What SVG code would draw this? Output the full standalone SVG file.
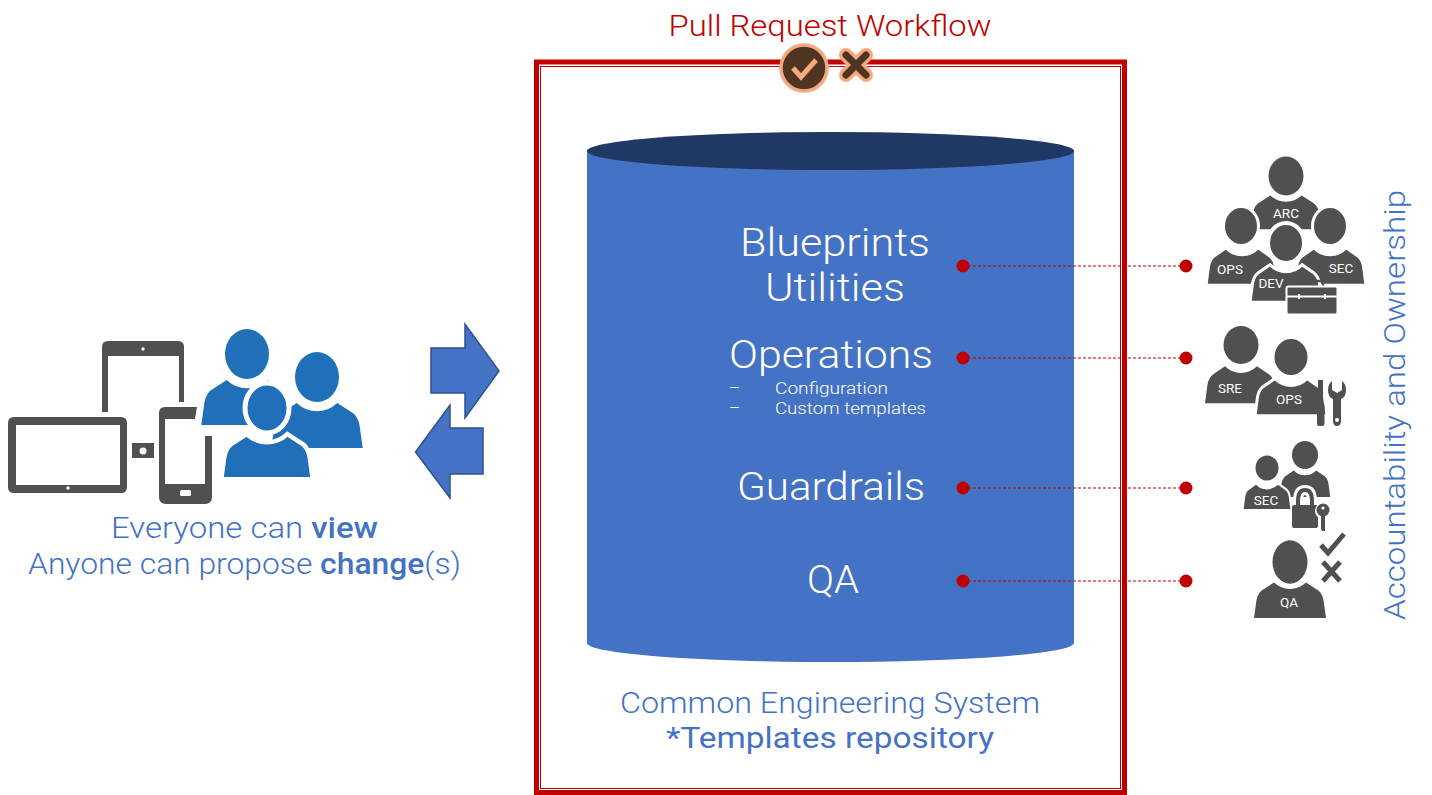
<svg xmlns="http://www.w3.org/2000/svg" xmlns:xlink="http://www.w3.org/1999/xlink" width="1432" height="795" viewBox="0 0 1432 795">
<style>
text{font-family:"Roboto","Liberation Sans",sans-serif;font-weight:300}
.w{fill:#fff}.b{fill:#4472c4}.r{fill:#c00000}
.gp{fill:#505050;stroke:#fff}
.bp{fill:#1f70b8;stroke:#fff}
.lb{fill:#fff;font-size:13.5px;font-weight:400;text-anchor:middle}
.gr{fill:#505050}
.ln{stroke:#c00000;stroke-width:1;stroke-dasharray:3 2;fill:none}
.dot{fill:#c00000}
.arr{fill:#4472c4;stroke:#2f528f;stroke-width:1.5}
</style>
<defs>
<path id="body" d="M-36,56 L-33.500,38 Q-32,30 -26,27 L-16,20.500 Q-9,27 0,27 Q9,27 16,20.500 L26,27 Q32,30 33.500,38 L36,56 Z"/>
</defs>
<rect width="1432" height="795" fill="#fff"/>

<g id="frame" fill="none" stroke="#c00000">
<rect x="536.500" y="62" width="588" height="730.500" stroke-width="5"/>
<rect x="540.500" y="66.500" width="580" height="722" stroke-width="1"/>
</g>
<g id="title"><text x="830" y="36" font-size="30" class="r" text-anchor="middle" textLength="323" lengthAdjust="spacingAndGlyphs">Pull Request Workflow</text></g>

<g id="review-icons">
<circle cx="804" cy="68" r="23" fill="#4f3422" stroke="#f4a97f" stroke-width="3.500"/>
<path d="M793,68 L801,77 L816,60" fill="none" stroke="#f4a97f" stroke-width="5"/>
<path d="M846,55 L866,75 M866,55 L846,75" stroke="#f4a97f" stroke-width="14" stroke-linecap="round"/>
<path d="M846,55 L866,75 M866,55 L846,75" stroke="#4f3422" stroke-width="7" stroke-linecap="round"/>
</g>

<g id="repository">
<path d="M587,151 V643 A243.500,19 0 0 0 1074,643 V151 Z" fill="#4472c4"/>
<ellipse cx="830.500" cy="151" rx="243.500" ry="19" fill="#203864"/>
<text x="835" y="256" font-size="38" class="w" text-anchor="middle" textLength="190" lengthAdjust="spacingAndGlyphs">Blueprints</text>
<text x="835" y="301" font-size="38" class="w" text-anchor="middle" textLength="140" lengthAdjust="spacingAndGlyphs">Utilities</text>
<text x="831" y="368" font-size="38" class="w" text-anchor="middle" textLength="204" lengthAdjust="spacingAndGlyphs">Operations</text>
<text x="729" y="394" font-size="17" class="w">–</text>
<text x="775" y="394" font-size="17" class="w" textLength="113" lengthAdjust="spacingAndGlyphs">Configuration</text>
<text x="729" y="414" font-size="17" class="w">–</text>
<text x="775" y="414" font-size="17" class="w" textLength="151" lengthAdjust="spacingAndGlyphs">Custom templates</text>
<text x="831" y="500" font-size="38" class="w" text-anchor="middle" textLength="188" lengthAdjust="spacingAndGlyphs">Guardrails</text>
<text x="833" y="593" font-size="38" class="w" text-anchor="middle" textLength="52" lengthAdjust="spacingAndGlyphs">QA</text>
</g>
<g id="repository-caption">
<text x="830" y="713" font-size="29" class="b" text-anchor="middle" textLength="420" lengthAdjust="spacingAndGlyphs">Common Engineering System</text>
<text x="830" y="748" font-size="29" class="b" text-anchor="middle" style="font-weight:400" textLength="328" lengthAdjust="spacingAndGlyphs">*Templates repository</text>
</g>

<g id="connectors">
<path class="ln" d="M963,266 H1186"/>
<path class="ln" d="M963,358 H1186"/>
<path class="ln" d="M963,488 H1186"/>
<path class="ln" d="M963,581 H1186"/>
<circle class="dot" cx="963" cy="266" r="6.500"/><circle class="dot" cx="1186" cy="266" r="6.500"/>
<circle class="dot" cx="963" cy="358" r="6.500"/><circle class="dot" cx="1186" cy="358" r="6.500"/>
<circle class="dot" cx="963" cy="488" r="6.500"/><circle class="dot" cx="1186" cy="488" r="6.500"/>
<circle class="dot" cx="963" cy="581" r="6.500"/><circle class="dot" cx="1186" cy="581" r="6.500"/>
</g>

<g id="flow-arrows">
<path class="arr" d="M431,348 H465 V324 L499,371 L465,418 V393 H431 Z"/>
<path class="arr" d="M483,428 H450 V405 L415.500,452 L450,498 V474 H483 Z"/>
</g>

<g id="users">
<path class="gr" fill-rule="evenodd" d="M108,341 H178 Q184,341 184,347 V402 H179 V356 H108 V412 H102 V347 Q102,341 108,341 Z"/>
<circle cx="143" cy="349" r="1.700" fill="#fff"/>
<path class="gr" fill-rule="evenodd" d="M14,417 H121 Q127,417 127,423 V487 Q127,493 121,493 H14 Q8,493 8,487 V423 Q8,417 14,417 Z M16,425 V485 H120 V425 Z"/>
<circle cx="68" cy="488" r="1.700" fill="#fff"/>
<rect class="gr" x="132" y="443" width="22" height="15"/>
<circle cx="143" cy="451" r="3.500" fill="#fff"/>
<path class="gr" fill-rule="evenodd" d="M165,407 H197 L195,419 H165 V484 H205 V436 H212 V497 Q212,504 205,504 H166 Q159,504 159,497 V413 Q159,407 165,407 Z"/>
<rect x="180" y="490" width="11" height="6" rx="1.500" fill="#fff"/>
<g class="bp" stroke-width="0">
<use href="#body" transform="translate(247,354) scale(1.270)"/>
<ellipse cx="247" cy="354" rx="22" ry="25"/>
<use href="#body" transform="translate(317,377) scale(1.270)"/>
<ellipse cx="317" cy="377" rx="22" ry="25"/>
<use href="#body" transform="translate(267,408) scale(1.270)" stroke-width="3.500"/>
<ellipse cx="267" cy="408" rx="22" ry="25" stroke-width="5"/>
</g>
</g>
<g id="users-caption">
<text x="244.500" y="538" font-size="29" class="b" text-anchor="middle" textLength="267" lengthAdjust="spacingAndGlyphs">Everyone can <tspan style="font-weight:500">view</tspan></text>
<text x="244.500" y="574" font-size="29" class="b" text-anchor="middle" textLength="433" lengthAdjust="spacingAndGlyphs">Anyone can propose <tspan style="font-weight:500">change</tspan>(s)</text>
</g>

<g id="team-platform">
<use class="gp" stroke-width="0" href="#body" transform="translate(1286,176) scale(.98,.95)"/>
<ellipse class="gr" cx="1286" cy="176" rx="17.500" ry="19.500"/>
<use class="gp" stroke-width="3" href="#body" transform="translate(1242,226) scale(1,1.060)"/>
<ellipse class="gp" stroke-width="3" cx="1241" cy="226" rx="17.500" ry="19.500"/>
<use class="gp" stroke-width="3" href="#body" transform="translate(1330,226) scale(1,1.060)"/>
<ellipse class="gp" stroke-width="3" cx="1330" cy="226" rx="17.500" ry="19.500"/>
<use class="gp" stroke-width="3" href="#body" transform="translate(1286,243) scale(1,1.060)"/>
<ellipse class="gp" stroke-width="4" cx="1286" cy="243" rx="18" ry="20"/>
<text class="lb" x="1286" y="218">ARC</text>
<text class="lb" x="1230" y="274">OPS</text>
<text class="lb" x="1341" y="273">SEC</text>
<text class="lb" x="1271" y="288">DEV</text>
<path fill="none" stroke="#505050" stroke-width="2.500" d="M1301,288 V281 H1323 V288"/>
<rect class="gp" x="1286.500" y="286.500" width="51" height="28" rx="2" stroke-width="2"/>
<path d="M1287,296.500 H1337 M1299,294 V299 M1325,294 V299" stroke="#fff" stroke-width="1.800"/>
</g>

<g id="team-operations">
<use class="gp" stroke-width="0" href="#body" transform="translate(1241,345) scale(1,1.040)"/>
<ellipse class="gr" cx="1241" cy="345" rx="17.500" ry="19"/>
<use class="gp" stroke-width="3" href="#body" transform="translate(1291,357) scale(1,1.050)"/>
<ellipse class="gp" stroke-width="3" cx="1291" cy="357" rx="18" ry="19.500"/>
<text class="lb" x="1230" y="393">SRE</text>
<text class="lb" x="1289" y="404">OPS</text>
<path class="gr" d="M1318,380 H1323 V402 L1324.500,405 V424 Q1324.500,426 1322,426 H1319 Q1317,426 1317,424 V405 L1318,402 Z"/>
<path class="gr" fill-rule="evenodd" d="M1332,381 V390 L1337,393 L1342,390 V381 Q1346,384 1346,390 Q1346,397 1341,399 V421 Q1341,426 1337,426 Q1333,426 1333,421 V399 Q1328,397 1328,390 Q1328,384 1332,381 Z M1337,418 A2,2 0 1 0 1337,422 A2,2 0 1 0 1337,418 Z"/>
</g>

<g id="team-security">
<use class="gp" stroke-width="0" href="#body" transform="translate(1305,455) scale(.7,.75)"/>
<ellipse class="gr" cx="1305" cy="455" rx="13" ry="14"/>
<use class="gp" stroke-width="3" href="#body" transform="translate(1267,468) scale(.68,.75)"/>
<ellipse class="gp" stroke-width="3" cx="1267" cy="468" rx="13" ry="14"/>
<text class="lb" x="1266" y="505">SEC</text>
<path fill="none" stroke="#fff" stroke-width="10" d="M1298,508 V501 Q1298,490 1305,490 Q1312,490 1312,501 V508"/>
<path fill="none" stroke="#505050" stroke-width="4" d="M1298,508 V501 Q1298,490 1305,490 Q1312,490 1312,501 V508"/>
<rect class="gr" x="1292" y="505" width="26" height="23" rx="2"/>
<circle cx="1323" cy="511" r="8" fill="#fff"/>
<circle class="gr" cx="1323" cy="510" r="6.500"/>
<circle cx="1323" cy="508" r="1.600" fill="#fff"/>
<path class="gr" d="M1321,514 H1325 V531 H1322 L1321,529 Z"/>
</g>

<g id="team-qa">
<use class="gp" stroke-width="0" href="#body" transform="translate(1290,562)"/>
<ellipse class="gr" cx="1290" cy="562" rx="17.500" ry="21.700"/>
<text class="lb" x="1289" y="607">QA</text>
<path d="M1321,545 L1328,553 L1344,534" fill="none" stroke="#505050" stroke-width="5"/>
<path d="M1323,562 L1340,581 M1340,562 L1323,581" stroke="#505050" stroke-width="5"/>
</g>

<g id="ownership-caption">
<text transform="translate(1405,620) rotate(-90)" font-size="29" class="b" textLength="430" lengthAdjust="spacingAndGlyphs">Accountability and Ownership</text>
</g>
</svg>
